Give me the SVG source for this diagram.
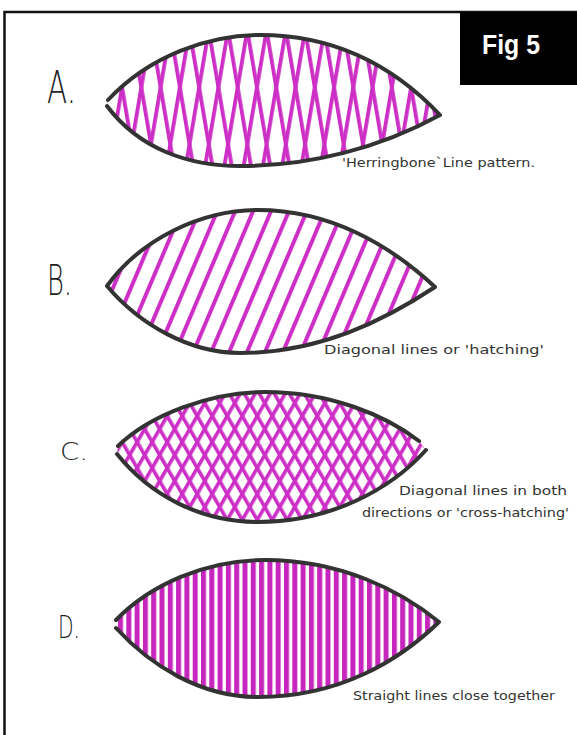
<svg xmlns="http://www.w3.org/2000/svg" width="577" height="735" viewBox="0 0 577 735">
<style>
.outline{fill:none;stroke:#333;stroke-width:4;stroke-linecap:round;stroke-linejoin:round}
.label{font-family:"DejaVu Sans","Liberation Sans",sans-serif;font-weight:200;fill:#222}
.note{font-family:"DejaVu Sans","Liberation Sans",sans-serif;font-weight:normal;font-size:12.5px;fill:#333}
.frame{fill:none;stroke:#111;stroke-width:2.5}
</style>
<defs>
<pattern id="hbA1" patternUnits="userSpaceOnUse" width="19" height="40" patternTransform="rotate(9.6)"><rect x="0" y="0" width="3.8" height="40" fill="#cc2ec6"/></pattern>
<pattern id="hbA2" patternUnits="userSpaceOnUse" width="19" height="40" patternTransform="translate(9 0) rotate(-9.6)"><rect x="0" y="0" width="3.8" height="40" fill="#cc2ec6"/></pattern>
<pattern id="hatchB" patternUnits="userSpaceOnUse" width="16.5" height="40" patternTransform="rotate(23)"><rect x="0" y="0" width="4" height="40" fill="#cc2ec6"/></pattern>
<pattern id="crossC1" patternUnits="userSpaceOnUse" width="13" height="40" patternTransform="rotate(30)"><rect x="0" y="0" width="3.6" height="40" fill="#cc2ec6"/></pattern>
<pattern id="crossC2" patternUnits="userSpaceOnUse" width="13" height="40" patternTransform="rotate(-30)"><rect x="0" y="0" width="3.6" height="40" fill="#cc2ec6"/></pattern>
<pattern id="vertD" patternUnits="userSpaceOnUse" width="8.3" height="40" patternTransform="translate(118 0)"><rect x="0" y="0" width="5" height="40" fill="#c626bd"/></pattern>
<clipPath id="clipA"><path d="M108,100 C150,55 210,35 260,35 C330,35 390,62 440,115 C380,148 310,166 240,166 C190,166 140,150 107,106 Z"/></clipPath>
<clipPath id="clipB"><path d="M107,286 C140,240 200,210 258,210 C330,210 390,245 435,287 C385,320 320,353 240,353 C190,353 140,325 107,286 Z"/></clipPath>
<clipPath id="clipC"><path d="M118,446 C150,415 210,392 265,392 C330,392 385,415 419,441 L426,450 C390,490 330,522 258,522 C200,522 150,495 117,454 Z"/></clipPath>
<clipPath id="clipD"><path d="M116,620 C150,585 205,560 265,560 C340,560 400,590 439,622 C400,660 340,697 258,697 C200,697 150,665 116,628 Z"/></clipPath>
</defs>
<rect width="577" height="735" fill="#fff"/>
<g id="frame">
<path class="frame" d="M4.5,735 L4.5,12 L577,12"/>
</g>
<g id="fig-title">
<rect x="460" y="12" width="117" height="73" fill="#000"/>
<text x="482" y="54" font-family="'Liberation Sans',Arial,sans-serif" font-weight="bold" font-size="28" fill="#fff" textLength="58" lengthAdjust="spacingAndGlyphs">Fig 5</text>
</g>
<g id="shape-a">
<g clip-path="url(#clipA)">
<rect x="100" y="30" width="345" height="140" fill="url(#hbA1)"/>
<rect x="100" y="30" width="345" height="140" fill="url(#hbA2)"/>
</g>
<path class="outline" d="M108,100 C150,55 210,35 260,35 C330,35 390,62 440,115 C380,148 310,166 240,166 C190,166 140,150 107,106"/>
<text class="label" x="47" y="103" font-size="44" textLength="29" lengthAdjust="spacingAndGlyphs">A.</text>
<text class="note" x="342" y="167" textLength="193" lengthAdjust="spacingAndGlyphs">'Herringbone`Line pattern.</text>
</g>
<g id="shape-b">
<g clip-path="url(#clipB)">
<rect x="100" y="205" width="340" height="152" fill="url(#hatchB)"/>
</g>
<path class="outline" d="M107,286 C140,240 200,210 258,210 C330,210 390,245 435,287 C385,320 320,353 240,353 C190,353 140,325 107,286 Z"/>
<text class="label" x="47" y="295" font-size="42" textLength="25" lengthAdjust="spacingAndGlyphs">B.</text>
<text class="note" x="324" y="354" textLength="220" lengthAdjust="spacingAndGlyphs">Diagonal lines or 'hatching'</text>
</g>
<g id="shape-c">
<g clip-path="url(#clipC)">
<rect x="110" y="388" width="320" height="138" fill="url(#crossC1)"/>
<rect x="110" y="388" width="320" height="138" fill="url(#crossC2)"/>
</g>
<path class="outline" d="M118,446 C150,415 210,392 265,392 C330,392 385,415 419,441"/>
<path class="outline" d="M117,454 C150,495 200,522 258,522 C330,522 390,490 426,450"/>
<text class="label" x="60" y="460" font-size="25" textLength="28" lengthAdjust="spacingAndGlyphs">C.</text>
<text class="note" x="399" y="495" textLength="168" lengthAdjust="spacingAndGlyphs">Diagonal lines in both</text>
<text class="note" x="362" y="517" textLength="207" lengthAdjust="spacingAndGlyphs">directions or 'cross-hatching'</text>
</g>
<g id="shape-d">
<g clip-path="url(#clipD)">
<rect x="110" y="555" width="335" height="146" fill="url(#vertD)"/>
</g>
<path class="outline" d="M116,620 C150,585 205,560 265,560 C340,560 400,590 439,622 C400,660 340,697 258,697 C200,697 150,665 116,628"/>
<text class="label" x="58" y="638" font-size="32" textLength="22" lengthAdjust="spacingAndGlyphs">D.</text>
<text class="note" x="353" y="700" textLength="202" lengthAdjust="spacingAndGlyphs">Straight lines close together</text>
</g>
</svg>
